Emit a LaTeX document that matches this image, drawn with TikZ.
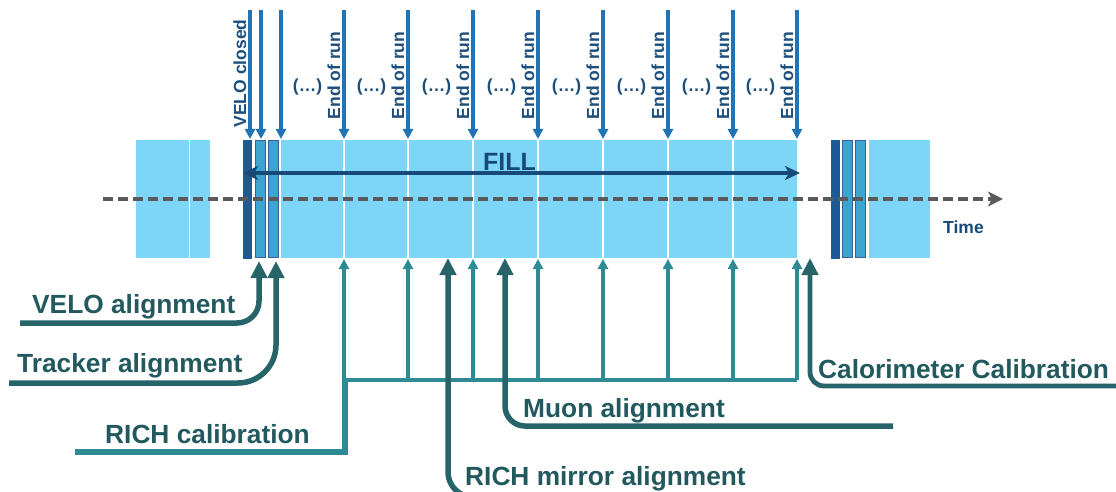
\documentclass[tikz,border=0pt]{standalone}
\usepackage{fontspec}
\setmainfont{Liberation Sans}
\usetikzlibrary{arrows.meta}
\definecolor{lblue}{HTML}{7DD6F8}
\definecolor{navybar}{HTML}{1C5A96}
\definecolor{midbar}{HTML}{3BA4D0}
\definecolor{barborder}{HTML}{3E5B9B}
\definecolor{toparrow}{HTML}{2273B5}
\definecolor{toptext}{HTML}{1C4F7D}
\definecolor{fillcol}{HTML}{174A78}
\definecolor{axisgray}{HTML}{5A5A5A}
\definecolor{tealthin}{HTML}{2E8A93}
\definecolor{tealdark}{HTML}{26646A}
\definecolor{labeltext}{HTML}{22595E}
\begin{document}
\begin{tikzpicture}[x=1pt,y=-1pt,
  lblock/.style={fill=lblue, inner sep=0pt, minimum height=118pt, anchor=west},
  darkbar/.style={fill=navybar, draw=navybar, line width=0.6pt, inner sep=0pt, minimum height=118pt, minimum width=8pt, anchor=west},
  midbarst/.style={fill=midbar, draw=barborder, line width=1.2pt, inner sep=0pt, minimum height=117pt, minimum width=10pt, anchor=west},
  toparr/.style={draw=toparrow, line width=3.2pt, -{Triangle[length=10pt,width=10pt]}},
  thinarr/.style={draw=tealthin, line width=3.2pt, -{Triangle[length=10pt,width=10pt]}},
  bigarr/.style={draw=tealdark, line width=5.5pt, -{Triangle[length=17pt,width=16pt]}},
  toptxt/.style={text=toptext, font=\fontsize{17.5}{20}\selectfont\bfseries, inner sep=0pt},
  lbl/.style={text=labeltext, font=\fontsize{26.3}{30}\selectfont\bfseries, inner sep=0pt, anchor=base west},
]
\useasboundingbox (0,0) rectangle (1116,492);

% left block
\node[lblock, minimum width=53pt] (l1) at (136,199) {};
\node[lblock, minimum width=20pt] (l2) at (190,199) {};
% left bars
\node[darkbar] (vc) at (243,199) {};
\node[midbarst] (m1) at (255,199) {};
\node[midbarst] (m2) at (268,199) {};
% fill segments
\foreach \a/\b [count=\i] in {281/343, 345/407, 409/472, 474/537, 539/602, 604/667, 669/732, 734/797} {
  \node[lblock, minimum width={\b-\a}] (seg\i) at (\a,199) {};
}
% right group
\node[darkbar] (rd) at (831,199) {};
\node[midbarst] (rm1) at (842,199) {};
\node[midbarst] (rm2) at (855,199) {};
\node[lblock, minimum width=61pt] (r1) at (869,199) {};

% top arrows
\foreach \x [count=\i] in {250,261,281,344,408,473,538,603,668,733,797} {
  \coordinate (ts\i) at (\x,10);
  \coordinate (te\i) at (\x,139);
  \draw[toparr] (ts\i) -- (te\i);
}
% top texts
\node[toptxt, rotate=90, anchor=base] (velocl) at (246,73.5) {VELO closed};
\foreach \x [count=\i] in {344,408,473,538,603,668,733,797} {
  \node[toptxt, rotate=90, anchor=base] (eor\i) at (\x-4,75.5) {End of run};
  \node[toptxt] (dots\i) at (\x-36.5,87) {(…)};
}

% FILL arrow
\node[text=fillcol, font=\fontsize{25}{30}\selectfont\bfseries, inner sep=0pt, anchor=base west] (filltxt) at (483,170) {FILL};
\coordinate (fa) at (243,173);
\coordinate (fb) at (800,173);
\draw[draw=fillcol, line width=3.2pt, {Stealth[length=15pt,width=14pt,inset=4pt]}-{Stealth[length=15pt,width=14pt,inset=4pt]}] (fa) -- (fb);

% time axis
\coordinate (ta) at (103,199);
\coordinate (tb) at (1003,199);
\draw[draw=axisgray, line width=3.6pt, dash pattern=on 10pt off 5pt, -{Stealth[length=15pt,width=15pt,inset=4pt]}] (ta) -- (tb);
\node[text=fillcol, font=\fontsize{17.5}{20}\selectfont\bfseries, inner sep=0pt, anchor=base west] (time) at (943,233) {Time};

% RICH calibration tree
\coordinate (rc0) at (75,452);
\coordinate (rc1) at (345,452);
\coordinate (rc2) at (345,380);
\coordinate (rc3) at (797,380);
\draw[draw=tealthin, line width=5.5pt] (rc0) -- (rc1) -- (rc2);
\draw[draw=tealthin, line width=3.2pt] (rc2) -- (rc3);
\foreach \x [count=\i] in {344,408,473,538,603,668,733,797} {
  \coordinate (bs\i) at (\x,380);
  \coordinate (be\i) at (\x,259);
  \draw[thinarr] (bs\i) -- (be\i);
}
\node[lbl] (richcal) at (105,443) {RICH calibration};

% VELO alignment
\coordinate (va0) at (20,323);
\coordinate (va1) at (259,323);
\coordinate (va2) at (259,261);
\draw[bigarr, rounded corners=22pt] (va0) -- (va1) -- (va2);
\node[lbl] (veloal) at (32,313) {VELO alignment};

% Tracker alignment
\coordinate (tr0) at (9,383);
\coordinate (tr1) at (276,383);
\coordinate (tr2) at (276,261);
\draw[bigarr, rounded corners=38pt] (tr0) -- (tr1) -- (tr2);
\node[lbl] (trackal) at (17,372) {Tracker alignment};

% Muon alignment
\coordinate (mu0) at (893,426);
\coordinate (mu1) at (505,426);
\coordinate (mu2) at (505,258);
\draw[bigarr, rounded corners=20pt] (mu0) -- (mu1) -- (mu2);
\node[lbl] (muonal) at (523,417) {Muon alignment};

% RICH mirror alignment
\coordinate (rm0) at (700,497);
\coordinate (rmc) at (448,497);
\coordinate (rmt) at (448,258);
\draw[bigarr, rounded corners=25pt] (rm0) -- (rmc) -- (rmt);
\node[lbl] (richmir) at (465,485) {RICH mirror alignment};

% Calorimeter calibration
\coordinate (ca0) at (1125,386);
\coordinate (ca1) at (810,386);
\coordinate (ca2) at (810,258);
\draw[bigarr, line width=4.8pt, rounded corners=14pt] (ca0) -- (ca1) -- (ca2);
\node[lbl] (calo) at (818,378) {Calorimeter Calibration};
\end{tikzpicture}
\end{document}
